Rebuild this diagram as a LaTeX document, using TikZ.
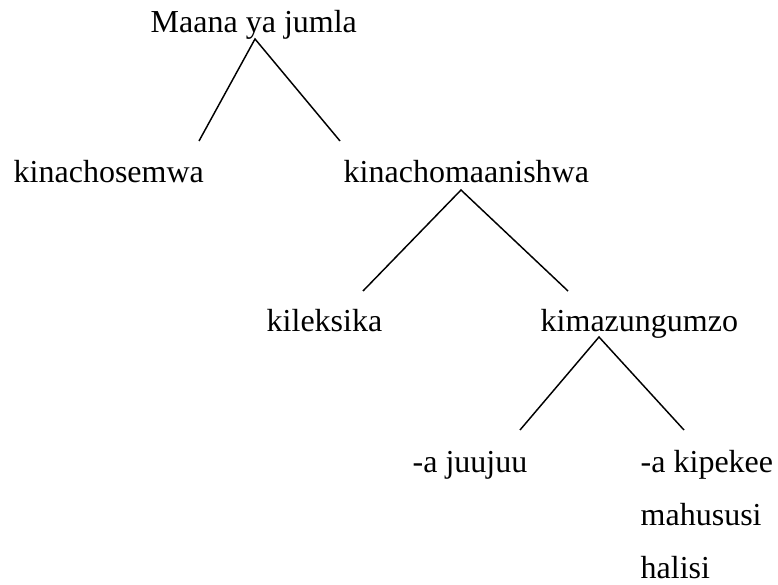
\documentclass[tikz,border=0pt]{standalone}
\usepackage{fontspec}
\setmainfont{Liberation Serif}
\usepackage{tikz}

\begin{document}
\begin{tikzpicture}[x=0.75pt, y=-0.75pt, word/.style={anchor=base west, inner sep=0pt, font=\fontsize{24}{28}\selectfont}, line width=1.1pt]
\useasboundingbox (0,0) rectangle (778,585);
\node [word] (maana) at (150,33) {Maana ya jumla};
\node [word] (semwa) at (13,182) {kinachosemwa};
\node [word] (maanishwa) at (343,182) {kinachomaanishwa};
\node [word] (leksika) at (266,331) {kileksika};
\node [word] (mazungumzo) at (540,331) {kimazungumzo};
\node [word] (juujuu) at (412,472) {-a juujuu};
\node [word] (kipekee) at (640,472) {-a kipekee};
\node [word] (mahususi) at (640,525) {mahususi};
\node [word] (halisi) at (640,578) {halisi};
\coordinate (maana-top) at (255,39);
\coordinate (semwa-end) at (199,141);
\coordinate (maanishwa-end) at (340,141);
\coordinate (maanishwa-top) at (461,190);
\coordinate (leksika-end) at (363,291);
\coordinate (mazungumzo-end) at (568,291);
\coordinate (mazungumzo-top) at (599,337);
\coordinate (juujuu-end) at (520,430);
\coordinate (kipekee-end) at (684,430);
\draw (semwa-end) -- (maana-top) -- (maanishwa-end);
\draw (leksika-end) -- (maanishwa-top) -- (mazungumzo-end);
\draw (juujuu-end) -- (mazungumzo-top) -- (kipekee-end);
\end{tikzpicture}
\end{document}
